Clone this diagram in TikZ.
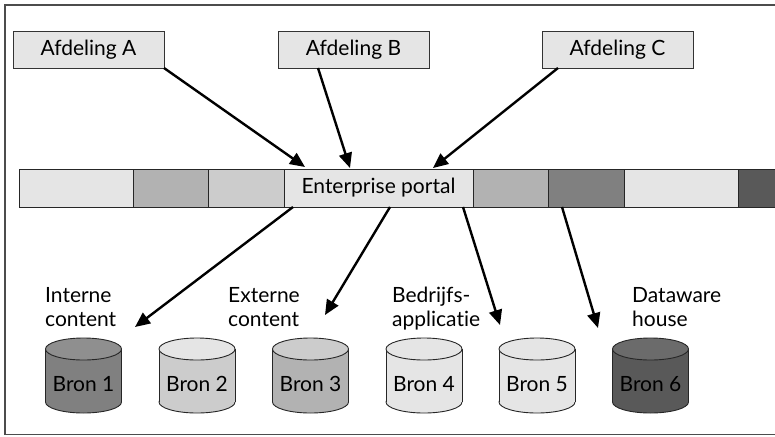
\documentclass[tikz,border=0pt]{standalone}
\usepackage{fontspec}
\setmainfont{Lato}[Ligatures=NoCommon]
\usetikzlibrary{arrows.meta}
\colorlet{gA}{black!10}
\colorlet{gB}{black!20}
\colorlet{gC}{black!30}
\colorlet{gD}{black!50}
\colorlet{gE}{black!65}
\tikzset{
  deptbox/.style={draw=black!80, line width=0.9pt, fill=gA, minimum width=151pt, minimum height=37pt, inner sep=0pt, font=\fontsize{21}{24}\selectfont},
  seg/.style={draw=black!85, line width=0.9pt, minimum height=38pt, inner sep=0pt, font=\fontsize{21}{24}\selectfont},
  conn/.style={line width=2.4pt, -{Triangle[length=15pt,width=13pt]}},
  lbl/.style={anchor=base west, inner sep=0pt, align=left, font=\fontsize{21}{24}\selectfont},
  bron/.style={anchor=base, inner sep=0pt, font=\fontsize{21}{24}\selectfont},
  cyl/.style={draw=black!85, line width=0.9pt}
}
\begin{document}
\begin{tikzpicture}[x=1pt,y=-1pt]
\useasboundingbox (0,0) rectangle (775,436);
% frame
\draw[black!70, line width=1.4pt] (775,5) -- (5,5) -- (5,434.5) -- (775,434.5);
% departments
\node[deptbox] (A) at (88.5,49.5) {Afdeling A};
\node[deptbox] (B) at (353.5,49.5) {Afdeling B};
\node[deptbox] (C) at (617.5,49.5) {Afdeling C};
% bar
\node[seg, fill=gA, minimum width=114pt] (s1) at (76,188) {};
\node[seg, fill=gC, minimum width=75pt] (s2) at (170.5,188) {};
\node[seg, fill=gB, minimum width=76pt] (s3) at (246,188) {};
\node[seg, fill=gA, minimum width=189pt] (portal) at (378.5,188) {Enterprise portal};
\node[seg, fill=gC, minimum width=75pt] (s5) at (510.5,188) {};
\node[seg, fill=gD, minimum width=76pt] (s6) at (586,188) {};
\node[seg, fill=gA, minimum width=114pt] (s7) at (681,188) {};
\node[seg, fill=gE, minimum width=60pt] (s8) at (768,188) {};
% arrow endpoints
\coordinate (aS) at (164,68);
\coordinate (aE) at (305,167);
\coordinate (bS) at (318,68);
\coordinate (bE) at (350,168);
\coordinate (cS) at (558,68);
\coordinate (cE) at (433,168);
\coordinate (d1S) at (293,207);
\coordinate (d1E) at (135,327);
\coordinate (d2S) at (390,207);
\coordinate (d2E) at (325,315);
\coordinate (d3S) at (463,207);
\coordinate (d3E) at (500,325);
\coordinate (d4S) at (562,207);
\coordinate (d4E) at (598,328);
\draw[conn] (aS) -- (aE);
\draw[conn] (bS) -- (bE);
\draw[conn] (cS) -- (cE);
\draw[conn] (d1S) -- (d1E);
\draw[conn] (d2S) -- (d2E);
\draw[conn] (d3S) -- (d3E);
\draw[conn] (d4S) -- (d4E);
% labels (base = baseline of last line)
\node[lbl] (l1) at (45,326) {Interne\\content};
\node[lbl] (l2) at (228,326) {Externe\\content};
\node[lbl] (l3) at (392,326) {Bedrijfs-\\applicatie};
\node[lbl] (l4) at (632,326) {Dataware\\house};
% cylinders
\foreach \cx/\side/\top/\n in {83.5/gD/black!44/1, 197/gB/gA/2, 310.5/gC/gB/3, 424/gA/gA/4, 537/gA/gA/5, 650.5/gE/black!58/6}{
  \draw[cyl, fill=\side] (\cx,402) ellipse[x radius=38, y radius=11];
  \fill[\side] (\cx-38,349) rectangle (\cx+38,402);
  \draw[cyl] (\cx-38,349) -- (\cx-38,402);
  \draw[cyl] (\cx+38,349) -- (\cx+38,402);
  \draw[cyl, fill=\top] (\cx,349) ellipse[x radius=38, y radius=11];
  \node[bron] (bron\n) at (\cx,391) {Bron \n};
}
\end{tikzpicture}
\end{document}
